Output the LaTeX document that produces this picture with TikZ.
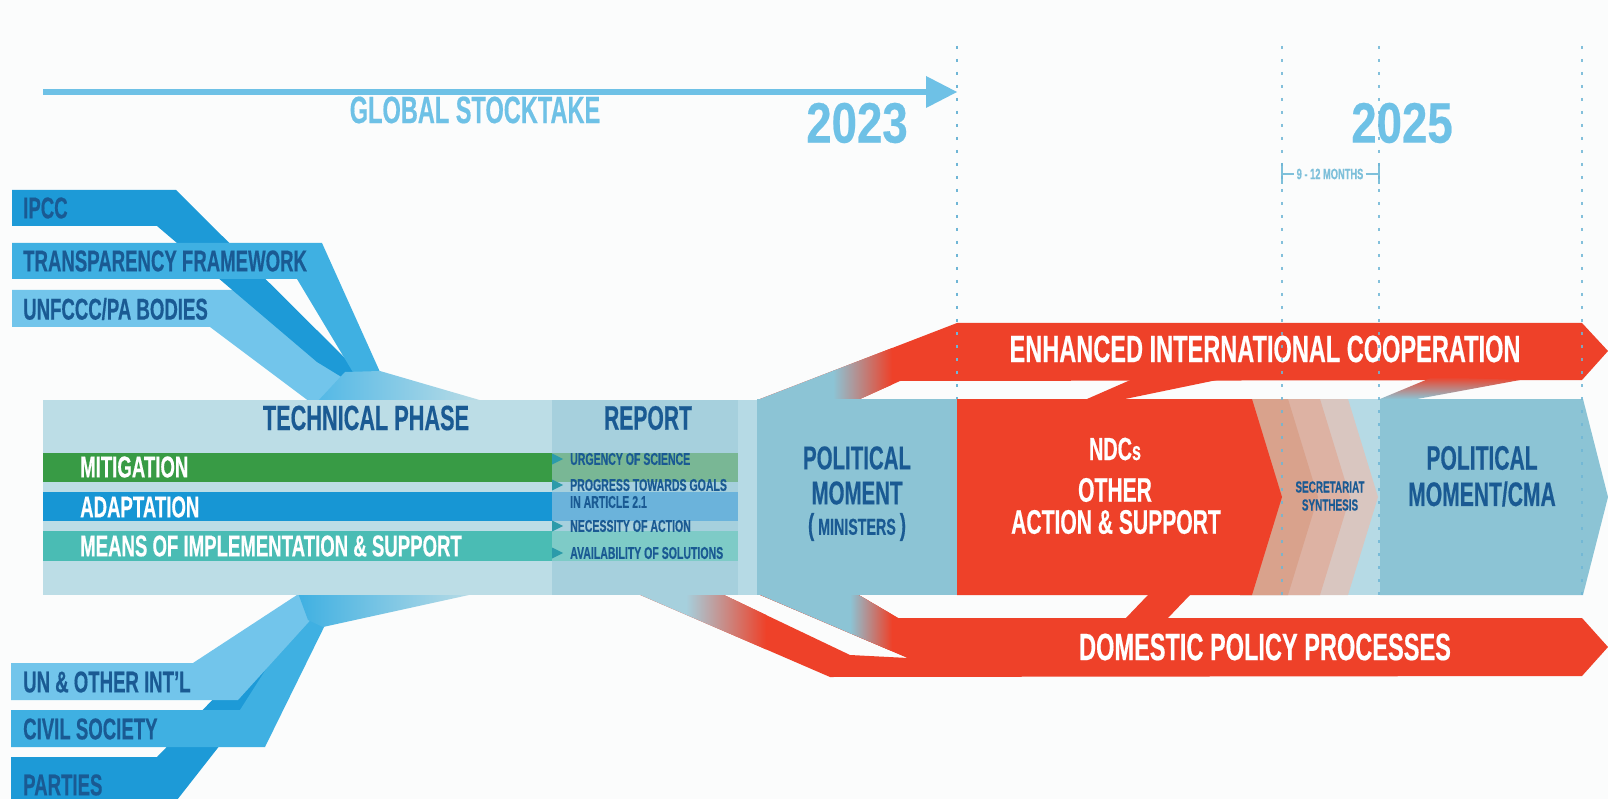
\documentclass[tikz,border=0pt]{standalone}
\usepackage{fontspec}
\newfontfamily\cond[FakeStretch=0.62,FakeBold=0.4]{Liberation Sans}
\newfontfamily\condw[FakeStretch=0.8,FakeBold=0.4]{Liberation Sans}
\newcommand\fsz[1]{\fontsize{#1}{#1}\selectfont}
\definecolor{bg}{HTML}{FBFCFC}
\definecolor{techc}{HTML}{BCDDE6}
\definecolor{repc}{HTML}{A6D0DD}
\definecolor{stripc}{HTML}{B6DAE5}
\definecolor{polc}{HTML}{8CC4D5}
\definecolor{redc}{HTML}{EE4129}
\definecolor{srcdark}{HTML}{1D9AD7}
\definecolor{srcmed}{HTML}{3FB0E2}
\definecolor{srclight}{HTML}{72C5EB}
\definecolor{navy}{HTML}{1A5A93}
\definecolor{sky}{HTML}{6EC1E6}
\definecolor{mitc}{HTML}{389B45}
\definecolor{adac}{HTML}{1796D4}
\definecolor{meac}{HTML}{4ABCB4}
\definecolor{mitl}{HTML}{79B795}
\definecolor{adal}{HTML}{6BB3DB}
\definecolor{meal}{HTML}{7ECBC7}
\definecolor{tric}{HTML}{2C9BAA}
\definecolor{sal1}{HTML}{D9A28C}
\definecolor{sal2}{HTML}{DDB2A3}
\definecolor{sal3}{HTML}{D9C6C0}
\definecolor{dotc}{HTML}{6FB6D6}
\definecolor{monc}{HTML}{7EC0DA}
\tikzset{
  txt/.style={inner sep=0pt, font=\cond\bfseries},
  navyt/.style={txt, text=navy},
  whitet/.style={txt, text=white},
  dotline/.style={dotc, line width=1.6pt, dash pattern=on 3pt off 10pt},
}
\begin{document}
\begin{tikzpicture}[x=1pt,y=-1pt]
\useasboundingbox (0,0) rectangle (1608,799);
\fill[bg] (0,0) rectangle (1608,799);

% ---- timeline arrow ----
\coordinate (arrS) at (43,92);
\coordinate (arrE) at (930,92);
\draw[sky, line width=6pt] (arrS) -- (arrE);
\fill[sky] (926,76) -- (957,92) -- (926,108) -- cycle;
\node[txt, text=sky, font=\cond\bfseries\fsz{38}] (gst) at (475,110) {GLOBAL STOCKTAKE};
\node[txt, text=sky, font=\condw\bfseries\fsz{57}] (y2023) at (857,123) {2023};
\node[txt, text=sky, font=\condw\bfseries\fsz{57}] (y2025) at (1402,123) {2025};

% 9-12 months bracket
\node[txt, text=monc, font=\cond\bfseries\fsz{15}] (months) at (1330,174) {9 - 12 MONTHS};
\draw[monc, line width=2pt] (1282,163) -- (1282,184);
\draw[monc, line width=2pt] (1379,163) -- (1379,184);
\draw[monc, line width=2pt] (1282,174) -- ([xshift=-2pt]months.west);
\draw[monc, line width=2pt] ([xshift=2pt]months.east) -- (1379,174);

% ---- upper sources ----
\fill[srclight] (12,290) -- (240,290) -- (350,370) -- (483,402) -- (310,402) -- (210,327) -- (12,327) -- cycle;
\fill[srcdark] (12,190) -- (176,190) -- (365,378) -- (353,384) -- (317,362) -- (157,226) -- (12,226) -- cycle;
\fill[srcmed] (12,243) -- (322,243) -- (380,372) -- (357,379) -- (297,279) -- (12,279) -- cycle;
\shade[left color=srcmed!60!srclight, right color=techc] (345,372) -- (380,371) -- (483,401) -- (318,401) -- cycle;

% ---- lower sources ----
\fill[srcdark] (11,757) -- (157,757) -- (290,620) -- (318,620) -- (177,800) -- (11,800) -- cycle;
\fill[srcmed] (11,710) -- (240,710) -- (305,608) -- (330,615) -- (265,747) -- (11,747) -- cycle;
\fill[srclight] (11,663) -- (193,663) -- (300,593) -- (335,593) -- (238,700) -- (11,700) -- cycle;
\shade[left color=srcmed, right color=techc] (298,593) -- (478,593) -- (323,627) -- (308,620) -- cycle;

\node[navyt, font=\cond\bfseries\fsz{30}, anchor=west] (ipcc) at (23,208) {IPCC};
\node[navyt, font=\cond\bfseries\fsz{30}, anchor=west] (transp) at (23,261) {TRANSPARENCY FRAMEWORK};
\node[navyt, font=\cond\bfseries\fsz{30}, anchor=west] (unfccc) at (23,309) {UNFCCC/PA BODIES};
\node[navyt, font=\cond\bfseries\fsz{30}, anchor=west] (unint) at (23,682) {UN \& OTHER INT’L};
\node[navyt, font=\cond\bfseries\fsz{30}, anchor=west] (civil) at (23,729) {CIVIL SOCIETY};
\node[navyt, font=\cond\bfseries\fsz{30}, anchor=west] (parties) at (23,785) {PARTIES};

% ---- enhanced international cooperation band ----
\begin{scope}
\clip (760,399) -- (957,323) -- (1582,323) -- (1608,351) -- (1582,380) -- (900,381) -- (860,399) -- cycle;
\fill[redc] (750,315) rectangle (1610,405);
\fill[polc] (750,315) rectangle (834,405);
\shade[left color=polc, right color=redc] (833,315) rectangle (892,405);
\end{scope}
% ---- domestic policy band ----
\begin{scope}
\clip (638,594) -- (722,594) -- (850,655) -- (908,658) -- (758,594) -- (857,594) -- (898,618) -- (1582,618) -- (1608,647) -- (1582,676) -- (830,677) -- cycle;
\fill[redc] (630,590) rectangle (1610,680);
\fill[repc] (630,590) rectangle (687,680);
\shade[left color=repc, right color=redc] (686,590) rectangle (766,680);
\end{scope}
\begin{scope}
\clip (758,594) -- (857,594) -- (898,618) -- (908,658) -- cycle;
\fill[redc] (750,590) rectangle (920,660);
\fill[polc] (750,590) rectangle (851,660);
\shade[left color=polc, right color=redc] (850,590) rectangle (892,660);
\end{scope}

% ---- main boxes ----
\fill[techc] (43,400) rectangle (552,595);
\fill[repc] (552,400) rectangle (738,595);
\fill[stripc] (738,400) rectangle (757,595);
\fill[polc] (757,399) rectangle (957,595);

% secretariat chevrons
\fill[stripc] (1250,399) rectangle (1381,595);
\fill[sal3] (1240,399) -- (1348,399) -- (1378,497) -- (1348,595) -- (1240,595) -- cycle;
\fill[sal2] (1240,399) -- (1320,399) -- (1350,497) -- (1320,595) -- (1240,595) -- cycle;
\fill[sal1] (1240,399) -- (1288,399) -- (1318,497) -- (1288,595) -- (1240,595) -- cycle;
\fill[redc] (957,399) -- (1252,399) -- (1282,497) -- (1252,595) -- (957,595) -- cycle;
\fill[polc] (1380,399) -- (1583,399) -- (1608,497) -- (1583,595) -- (1380,595) -- cycle;

% connectors between boxes and bands
\fill[redc] (1087,399) -- (1135,378) -- (1217,380) -- (1125,399) -- cycle;
\fill[redc] (1125,619) -- (1148,595) -- (1190,595) -- (1167,619) -- cycle;
\shade[top color=redc, bottom color=polc] (1380,399) -- (1433,377) -- (1520,380) -- (1417,399) -- cycle;

% inner bands
\fill[mitc] (43,453) rectangle (552,482);
\fill[adac] (43,492) rectangle (552,521);
\fill[meac] (43,531) rectangle (552,561);
\fill[mitl] (552,453) rectangle (738,482);
\fill[adal] (552,492) rectangle (738,521);
\fill[meal] (552,531) rectangle (738,561);
\foreach \yy in {459,485,526,553}
  \fill[tric] (552,\yy-5.5) -- (563,\yy) -- (552,\yy+5.5) -- cycle;

% texts
\node[navyt, font=\cond\bfseries\fsz{35}] (tech) at (366,418) {TECHNICAL PHASE};
\node[navyt, font=\cond\bfseries\fsz{34}] (report) at (648,418) {REPORT};
\node[whitet, font=\cond\bfseries\fsz{30}, anchor=west] (mit) at (80,467) {MITIGATION};
\node[whitet, font=\cond\bfseries\fsz{30}, anchor=west] (ada) at (80,507) {ADAPTATION};
\node[whitet, font=\cond\bfseries\fsz{30}, anchor=west] (mea) at (80,546) {MEANS OF IMPLEMENTATION \& SUPPORT};
\node[navyt, font=\cond\bfseries\fsz{17}, anchor=west] (r1) at (570,459) {URGENCY OF SCIENCE};
\node[navyt, font=\cond\bfseries\fsz{17}, anchor=west] (r2) at (570,485) {PROGRESS TOWARDS GOALS};
\node[navyt, font=\cond\bfseries\fsz{17}, anchor=west] (r2b) at (570,502) {IN ARTICLE 2.1};
\node[navyt, font=\cond\bfseries\fsz{17}, anchor=west] (r3) at (570,526) {NECESSITY OF ACTION};
\node[navyt, font=\cond\bfseries\fsz{17}, anchor=west] (r4) at (570,553) {AVAILABILITY OF SOLUTIONS};

\node[navyt, font=\cond\bfseries\fsz{33}] (pol1) at (857,458) {POLITICAL};
\node[navyt, font=\cond\bfseries\fsz{33}] (pol2) at (857,493) {MOMENT};
\node[navyt, font=\cond\bfseries\fsz{23}] (pol3) at (857,527) {{\fsz{30}(} MINISTERS {\fsz{30})}};

\node[whitet, font=\cond\bfseries\fsz{32}] (ndc1) at (1115,449) {NDC{\fsz{26}s}};
\node[whitet, font=\cond\bfseries\fsz{34}] (ndc2) at (1115,490) {OTHER};
\node[whitet, font=\cond\bfseries\fsz{34}] (ndc3) at (1116,522) {ACTION \& SUPPORT};

\node[navyt, font=\cond\bfseries\fsz{16}] (sec1) at (1330,487) {SECRETARIAT};
\node[navyt, font=\cond\bfseries\fsz{16}] (sec2) at (1330,505) {SYNTHESIS};

\node[navyt, font=\cond\bfseries\fsz{34}] (cma1) at (1482,458) {POLITICAL};
\node[navyt, font=\cond\bfseries\fsz{34}] (cma2) at (1482,494) {MOMENT/CMA};

\node[whitet, font=\cond\bfseries\fsz{38}] (eic) at (1265,349) {ENHANCED INTERNATIONAL COOPERATION};
\node[whitet, font=\cond\bfseries\fsz{38}] (dpp) at (1265,647) {DOMESTIC POLICY PROCESSES};

% dotted year lines
\draw[dotline] (957,46) -- (957,399);
\draw[dotline, opacity=0.85] (1282,46) -- (1282,595);
\draw[dotline, opacity=0.85] (1379,46) -- (1379,595);
\draw[dotline, opacity=0.85] (1582,46) -- (1582,595);
\end{tikzpicture}
\end{document}
